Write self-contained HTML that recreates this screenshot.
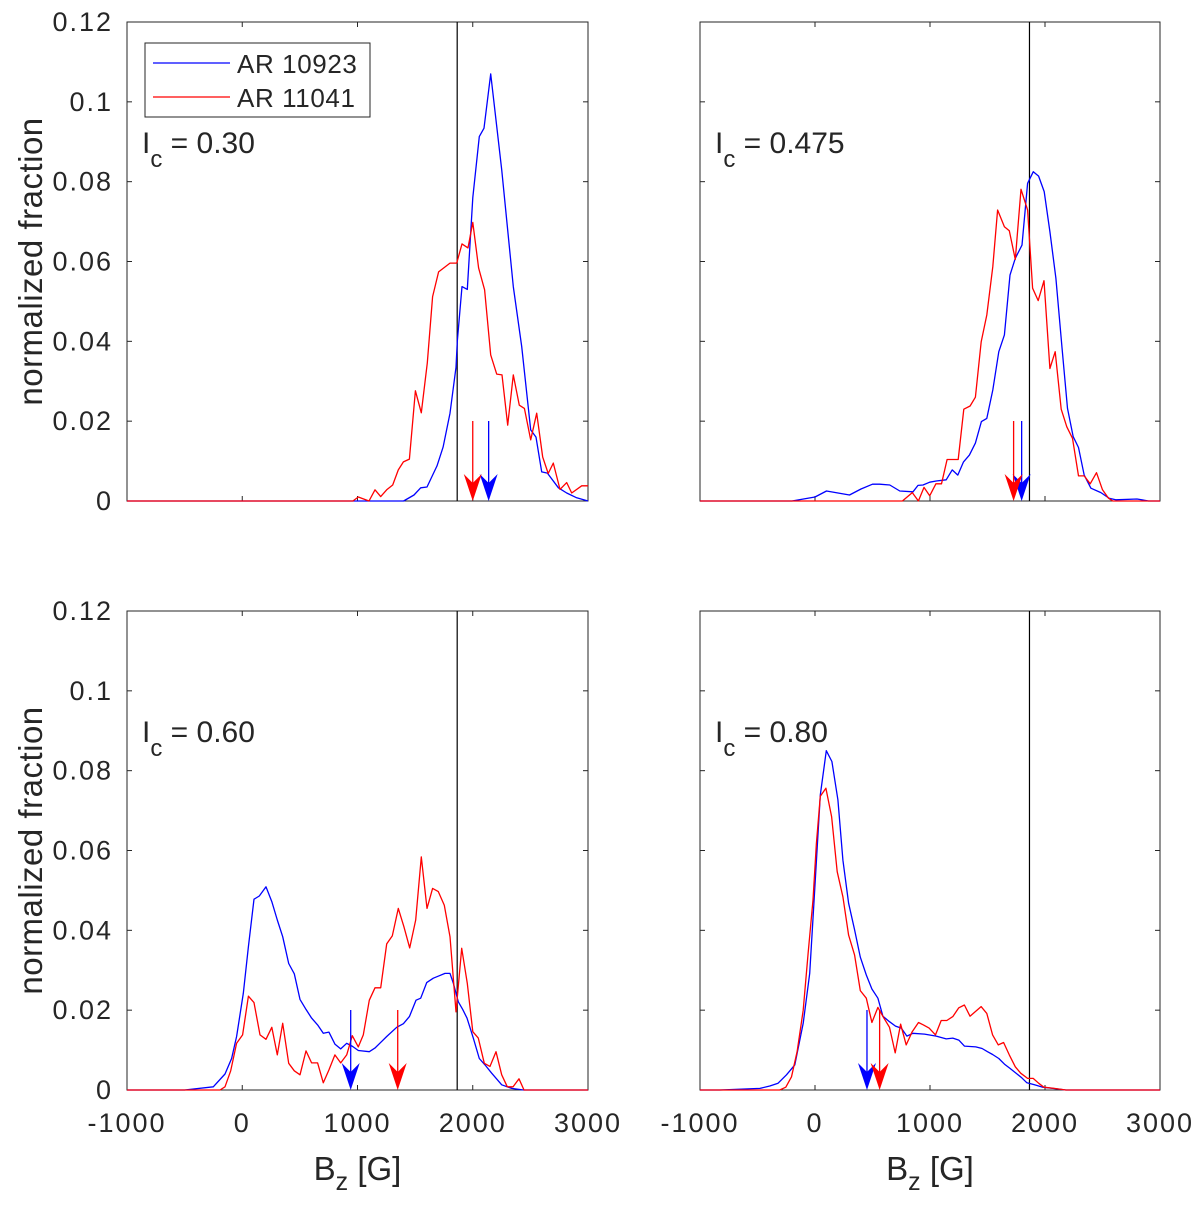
<!DOCTYPE html>
<html><head><meta charset="utf-8"><style>
html,body{margin:0;padding:0;background:#fff}
svg text{font-family:"Liberation Sans",sans-serif;fill:#262626}
</style></head><body>
<svg id="chart" width="1200" height="1200" xmlns="http://www.w3.org/2000/svg"></svg>
<script>
const xTicks=[-1000,0,1000,2000,3000];
const yTicks=[0,0.02,0.04,0.06,0.08,0.1,0.12];
const yTickLabels=["0","0.02","0.04","0.06","0.08","0.1","0.12"];
const panelLabels=["0.30","0.475","0.60","0.80"];
const seriesNames=["AR 10923","AR 11041"];
const thresholdB=1865;
// Panel 1
const p1BlueB=[-1000,1400,1490,1548,1603,1690,1743,1803,1855,1866,1907,1953,2000,2057,2098,2156,2251,2352,2425,2503,2549,2598,2648,2743,2815,2902,3000];
const p1BlueV=[0,0,0.0015,0.0033,0.0035,0.0088,0.0135,0.022,0.0335,0.040,0.0537,0.053,0.076,0.0913,0.0934,0.107,0.083,0.0537,0.0387,0.0178,0.016,0.0073,0.007,0.0033,0.002,0.0008,0];
const p1RedB=[-1000,960,1007,1100,1152,1201,1253,1305,1354,1398,1450,1502,1554,1606,1652,1704,1803,1861,1907,1959,2000,2051,2103,2156,2208,2254,2303,2352,2404,2448,2503,2555,2607,2655,2699,2757,2815,2859,2945,3000];
const p1RedV=[0,0,0.001,0,0.0028,0.0011,0.0028,0.004,0.0078,0.0098,0.0105,0.0276,0.0221,0.0346,0.0512,0.0574,0.0596,0.0596,0.0644,0.0634,0.0698,0.0584,0.0529,0.0366,0.0318,0.0316,0.019,0.0316,0.024,0.0232,0.0153,0.022,0.011,0.0069,0.0095,0.0029,0.0046,0.002,0.0038,0.0038];
// Panel 2
const p2BlueB=[-1000,-200,-100,0,100,200,300,400,500,562,650,737,852,896,939,997,1054,1141,1193,1242,1291,1343,1395,1447,1494,1546,1598,1647,1696,1742,1800,1849,1898,1944,1993,2043,2095,2147,2196,2245,2291,2341,2399,2486,2557,2615,2800,2900,3000];
const p2BlueV=[0,0,0.0005,0.001,0.0025,0.002,0.0015,0.003,0.0042,0.0042,0.004,0.0025,0.0023,0.0039,0.004,0.0047,0.005,0.0053,0.0078,0.0065,0.0098,0.0115,0.0145,0.0199,0.0207,0.0278,0.0374,0.0416,0.0566,0.0608,0.0641,0.0796,0.0825,0.0814,0.0775,0.0675,0.0558,0.0387,0.0232,0.0161,0.0134,0.0065,0.0032,0.0021,0.0007,0.0003,0.0005,0,0];
const p2RedB=[-1000,760,846,899,948,997,1051,1100,1149,1245,1294,1349,1395,1445,1494,1546,1588,1647,1690,1742,1791,1849,1892,1941,1991,2043,2089,2141,2190,2239,2291,2341,2393,2448,2500,2552,2590,3000];
const p2RedV=[0,0,0.0021,0,0.0034,0.0013,0.0043,0.0043,0.0104,0.0104,0.023,0.0238,0.026,0.0399,0.0466,0.0587,0.0729,0.0687,0.0677,0.0605,0.0781,0.0729,0.0533,0.0502,0.0552,0.0332,0.0374,0.023,0.0186,0.0157,0.0063,0.0063,0.0043,0.0071,0.0028,0.0007,0,0];
// Panel 3
const p3BlueB=[-1000,-500,-251,-150,-92,-49,9,53,102,148,206,256,304,351,403,452,501,553,602,654,703,752,804,854,906,958,1007,1102,1151,1253,1340,1398,1450,1508,1548,1600,1658,1700,1759,1803,1832,1875,1913,1950,2005,2057,2106,2164,2251,2338,2440,3000];
const p3BlueV=[0,0,0.0008,0.004,0.0079,0.0134,0.0242,0.0359,0.0478,0.0486,0.0509,0.0472,0.0426,0.0384,0.0317,0.0291,0.0227,0.0202,0.018,0.0163,0.0142,0.0145,0.0115,0.0103,0.0117,0.0109,0.0099,0.0096,0.0105,0.0134,0.0157,0.0166,0.0184,0.0225,0.023,0.0269,0.028,0.0285,0.0292,0.0292,0.0267,0.0221,0.0202,0.018,0.013,0.0079,0.0063,0.0042,0.0013,0.0004,0,0];
const p3RedB=[-1000,-193,-150,-100,-49,3,53,102,154,206,256,304,351,403,452,501,553,602,654,703,752,804,854,906,955,1007,1050,1102,1152,1201,1253,1302,1354,1403,1453,1505,1554,1603,1652,1701,1753,1803,1855,1904,1953,2000,2048,2100,2150,2202,2251,2300,2350,2401,2445,3000];
const p3RedV=[0,0,0.0008,0.0048,0.0117,0.0138,0.0235,0.0219,0.0138,0.0127,0.0157,0.0088,0.0167,0.0067,0.0048,0.0038,0.0098,0.0068,0.0068,0.0018,0.005,0.0088,0.0068,0.0088,0.0136,0.0108,0.0138,0.0225,0.0256,0.0256,0.0366,0.0386,0.0455,0.0409,0.0356,0.0426,0.0584,0.0455,0.0505,0.0497,0.0463,0.0384,0.0196,0.0355,0.0267,0.0146,0.013,0.0067,0.0059,0.0096,0.0038,0.0008,0.0008,0.0028,0,0];
// Panel 4
const p4BlueB=[-1000,-826,-479,-393,-321,-248,-176,-103,-46,-3,46,98,147,199,243,292,344,394,446,495,547,590,648,700,750,799,851,952,1054,1141,1198,1250,1299,1349,1398,1453,1500,1544,1598,1647,1696,1749,1792,1843,1909,1981,2068,2183,3000];
const p4BlueV=[0,0,0.0004,0.001,0.0017,0.0038,0.0063,0.0167,0.0292,0.0501,0.0739,0.085,0.0823,0.0727,0.0576,0.0468,0.0401,0.0333,0.0288,0.0253,0.023,0.0185,0.0171,0.016,0.0155,0.0135,0.0142,0.014,0.0135,0.0128,0.013,0.0125,0.011,0.0109,0.0108,0.0104,0.0096,0.0089,0.0079,0.0065,0.0054,0.0042,0.0032,0.0018,0.0013,0.0007,0.0004,0,0];
const p4RedB=[-1000,-307,-254,-204,-156,-103,-60,-17,12,46,95,144,193,243,292,344,394,446,495,547,596,648,697,744,793,845,900,943,992,1048,1097,1146,1198,1250,1299,1348,1444,1494,1544,1594,1640,1690,1742,1789,1849,1897,1944,1990,2081,2180,3000];
const p4RedV=[0,0,0.0007,0.0033,0.0096,0.02,0.0342,0.0476,0.0618,0.0736,0.0756,0.0685,0.0547,0.0484,0.0388,0.0338,0.0249,0.023,0.0169,0.0207,0.0182,0.0157,0.0093,0.0165,0.0113,0.0146,0.0169,0.0163,0.0155,0.0138,0.0174,0.0174,0.0184,0.0206,0.0213,0.0185,0.0209,0.0192,0.0138,0.0113,0.0119,0.0088,0.0058,0.0042,0.0029,0.0029,0.0017,0.0007,0.0004,0,0];
// mean-field arrows [blue, red]
const arrowB=[[2138,2000],[1797,1727],[941,1349],[452,562]];

const NS="http://www.w3.org/2000/svg";
const svg=document.getElementById('chart');
function mk(tag,attrs,parent){const e=document.createElementNS(NS,tag);for(const k in attrs)e.setAttribute(k,attrs[k]);(parent||svg).appendChild(e);return e;}
const panels=[
 {x0:127,x1:588,y0:22,y1:501,blue:[p1BlueB,p1BlueV],red:[p1RedB,p1RedV],yl:true,xl:false},
 {x0:700,x1:1160,y0:22,y1:501,blue:[p2BlueB,p2BlueV],red:[p2RedB,p2RedV],yl:false,xl:false},
 {x0:127,x1:588,y0:611,y1:1090,blue:[p3BlueB,p3BlueV],red:[p3RedB,p3RedV],yl:true,xl:true},
 {x0:700,x1:1160,y0:611,y1:1090,blue:[p4BlueB,p4BlueV],red:[p4RedB,p4RedV],yl:false,xl:true}];
panels.forEach((p,i)=>{
 const g=mk('g',{});
 
 
 const sx=b=>p.x0+(b+1000)/4000*(p.x1-p.x0);
 const sy=v=>p.y1-v/0.12*(p.y1-p.y0);
 const frame=mk('rect',{x:p.x0,y:p.y0,width:p.x1-p.x0,height:p.y1-p.y0,fill:'#fff',stroke:'#262626','stroke-width':1},g);
 
 
 xTicks.forEach(t=>{const x=sx(t);
  mk('line',{x1:x,x2:x,y1:p.y1,y2:p.y1-5,stroke:'#262626'},g);
  mk('line',{x1:x,x2:x,y1:p.y0,y2:p.y0+5,stroke:'#262626'},g);
  if(p.xl){const tx=mk('text',{x:x,y:p.y1+42,'font-size':27,'letter-spacing':2,'text-anchor':'middle'},g);tx.textContent=t;
   
   }
 });
 yTicks.forEach((t,j)=>{const y=sy(t);
  mk('line',{x1:p.x0,x2:p.x0+5,y1:y,y2:y,stroke:'#262626'},g);
  mk('line',{x1:p.x1,x2:p.x1-5,y1:y,y2:y,stroke:'#262626'},g);
  if(p.yl){const tx=mk('text',{x:p.x0-14,y:y+9,'font-size':27,'letter-spacing':2,'text-anchor':'end'},g);tx.textContent=yTickLabels[j];
   
   }
 });
 const vl=mk('line',{x1:sx(thresholdB),x2:sx(thresholdB),y1:p.y0,y2:p.y1,stroke:'#000','stroke-width':1.2},g);
 
 
 [['blue',p.blue,'#0000ff'],['red',p.red,'#ff0000']].forEach(([n,d,c])=>{
  const pts=d[0].map((b,k)=>sx(b).toFixed(1)+','+sy(d[1][k]).toFixed(1)).join(' ');
  const pl=mk('polyline',{points:pts,fill:'none',stroke:c,'stroke-width':1.3,'stroke-linejoin':'round'},g);
  
  
 });
 [['blue',arrowB[i][0],'#0000ff'],['red',arrowB[i][1],'#ff0000']].forEach(([n,b,c])=>{
  const x=sx(b);
  const a=mk('g',{},g);
  
  
  mk('line',{x1:x,x2:x,y1:p.y1-80,y2:p.y1-10,stroke:c,'stroke-width':1.3},a);
  mk('polygon',{points:`${x-9},${p.y1-27} ${x},${p.y1-18} ${x+9},${p.y1-27} ${x},${p.y1}`,fill:c},a);
 });
 const lab=mk('text',{x:p.x0+15,y:p.y0+131,'font-size':30},g);
 lab.innerHTML='I<tspan dy="14" font-size="24">c</tspan><tspan dy="-14"> = '+panelLabels[i]+'</tspan>';
 
 
 if(p.yl){const yc=(p.y0+p.y1)/2;const t=mk('text',{x:42,y:yc,'font-size':33,'letter-spacing':0.5,'text-anchor':'middle',transform:`rotate(-90 42 ${yc})`},g);t.textContent='normalized fraction';
  
  }
 if(p.xl){const xc=(p.x0+p.x1)/2;const t=mk('text',{x:xc,y:1180,'font-size':33,'text-anchor':'middle'},g);t.innerHTML='B<tspan dy="10" font-size="25">z</tspan><tspan dy="-10"> [G]</tspan>';
  
  }
});
const lg=mk('g',{});


mk('rect',{x:145,y:43,width:225,height:74,fill:'#fff',stroke:'#262626'},lg);
['#0000ff','#ff0000'].forEach((c,k)=>{const y=63+k*34;
 const e=mk('g',{},lg);
 
 
 mk('line',{x1:153,x2:230,y1:y,y2:y,stroke:c,'stroke-width':1.3},e);
 const t=mk('text',{x:237,y:y+10,'font-size':26,'letter-spacing':0.6},e);t.textContent=seriesNames[k];});
</script>
</body></html>
